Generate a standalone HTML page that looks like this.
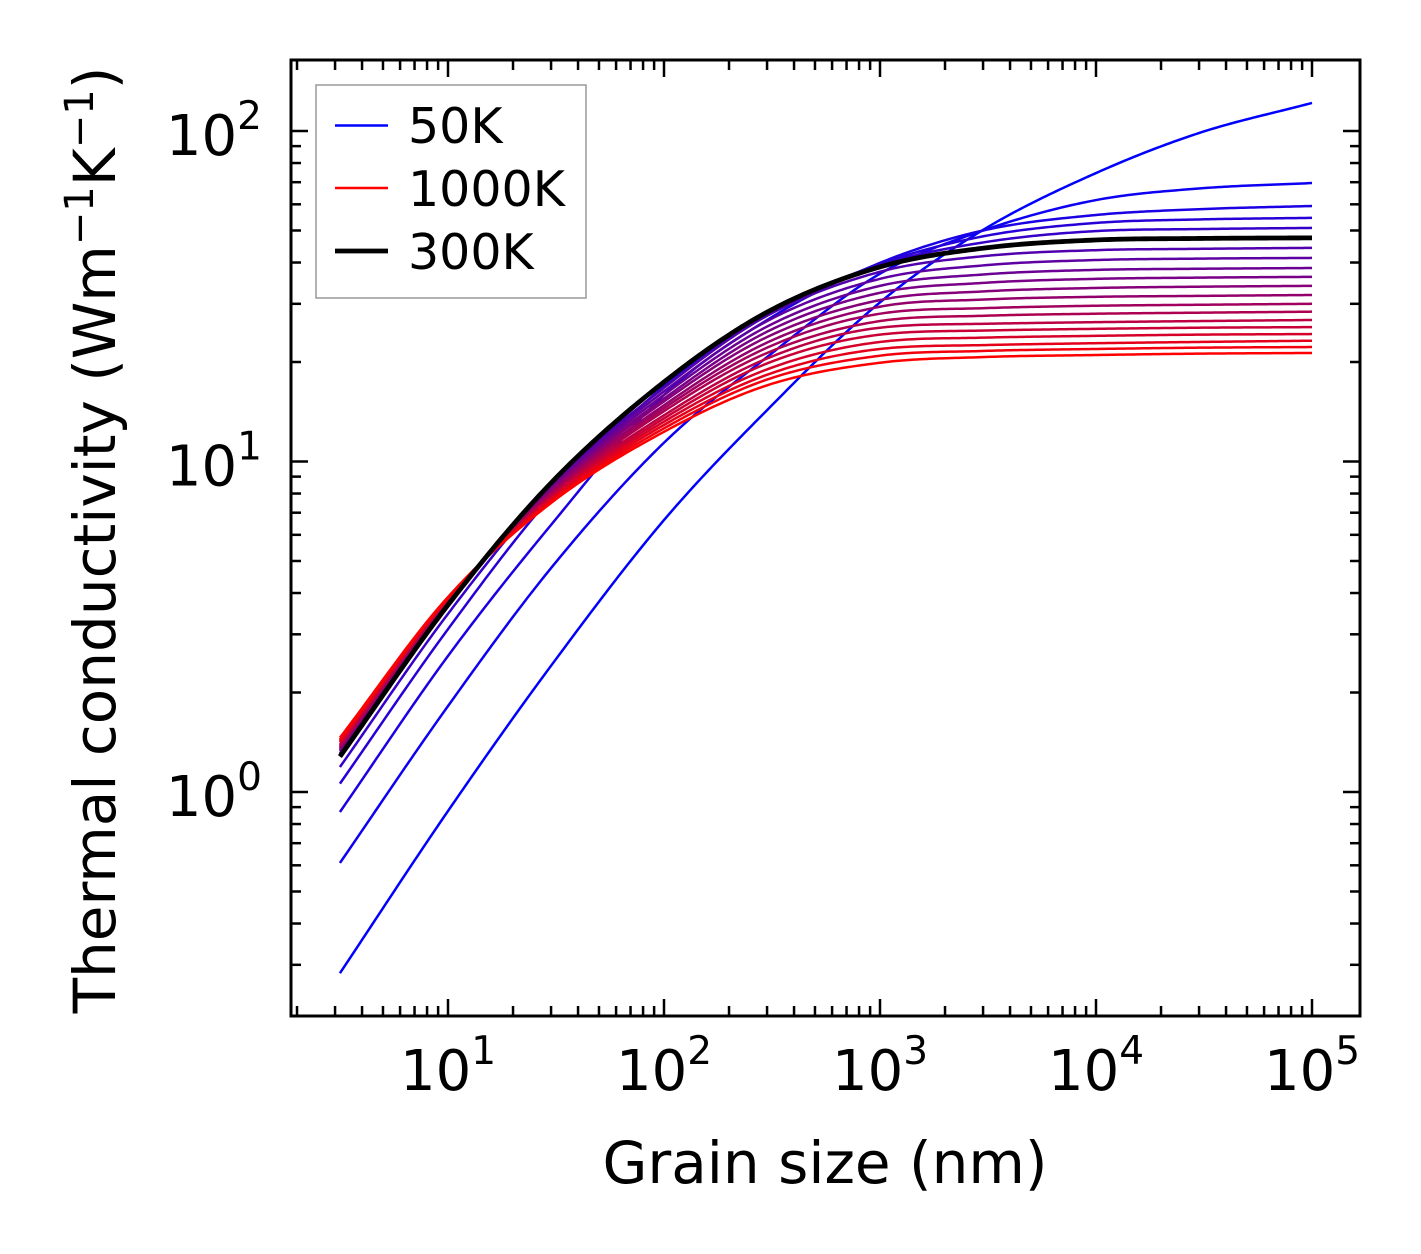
<!DOCTYPE html>
<html><head><meta charset="utf-8"><style>
html,body{margin:0;padding:0;background:#fff;}
svg{display:block;font-family:"DejaVu Sans","Liberation Sans",sans-serif;}
</style></head><body>
<svg id="chart" width="1421" height="1254" viewBox="0 0 1421 1254" xmlns="http://www.w3.org/2000/svg">
<rect width="1421" height="1254" fill="#fff"/>
<g id="curves"></g>
<g id="ticks"></g>
<rect x="291" y="60" width="1069" height="956" fill="none" stroke="#000" stroke-width="3"/>
<g id="xlabels"></g>
<g id="ylabels"></g>
<text x="825" y="1183" font-size="58" text-anchor="middle">Grain size (nm)</text>
<text transform="translate(115,540) rotate(-90)" font-size="58" text-anchor="middle">Thermal conductivity (Wm<tspan font-size="40" dy="-22">−1</tspan><tspan dy="22">K</tspan><tspan font-size="40" dy="-22">−1</tspan><tspan dy="22">)</tspan></text>
<g>
<rect x="316" y="85" width="270" height="213" fill="#fff" stroke="#999" stroke-width="1.5"/>
<line x1="335" y1="125.5" x2="388" y2="125.5" stroke="#0000ff" stroke-width="2.5"/>
<text x="408" y="143" font-size="49">50K</text>
<line x1="335" y1="188" x2="388" y2="188" stroke="#ff0000" stroke-width="2.5"/>
<text x="408" y="206" font-size="49">1000K</text>
<line x1="335" y1="251" x2="388" y2="251" stroke="#000" stroke-width="4.8"/>
<text x="408" y="269" font-size="49">300K</text>
</g>
</svg>
<script>
const NS="http://www.w3.org/2000/svg";
const temperatures=[50,100,150,200,250,300,350,400,450,500,550,600,650,700,750,800,850,900,950,1000];
const grainSizes=[3.16,10,30,100,300,1000,3000,10000,30000,100000];
const k50=[0.283,0.876,2.41,6.65,14.3,30.3,50.2,74.6,98.6,121.6];
const k100=[0.610,1.82,4.76,11.4,20.7,37.0,50.0,61.8,67.0,69.6];
const k150=[0.870,2.58,6.43,15.9,26.8,39.9,50.0,55.7,58.0,59.3];
const k200=[1.06,3.11,7.81,16.9,27.9,39.6,48.0,52.7,54.0,54.6];
const k250=[1.19,3.46,8.32,17.3,28.3,39.3,46.0,49.8,50.5,50.9];
const k300=[1.28,3.68,8.61,17.4,28.3,38.8,44.2,46.8,47.3,47.5];
const k350=[1.30,3.73,8.49,16.7,27.6,37.5,41.8,43.6,44.0,44.3];
const k400=[1.31,3.74,8.41,16.3,26.6,35.7,39.2,40.7,41.1,41.3];
const k450=[1.33,3.75,8.33,15.9,25.6,34.0,36.8,38.0,38.3,38.5];
const k500=[1.34,3.77,8.25,15.5,24.7,32.4,34.7,35.7,36.0,36.2];
const k550=[1.35,3.78,8.17,15.2,23.8,30.8,32.7,33.5,33.8,34.0];
const k600=[1.36,3.79,8.09,14.8,22.9,29.4,30.9,31.5,31.7,31.9];
const k650=[1.37,3.81,8.01,14.5,22.1,28.0,29.1,29.6,29.8,30.0];
const k700=[1.38,3.82,7.94,14.2,21.3,26.6,27.6,28.0,28.2,28.4];
const k750=[1.39,3.83,7.86,13.8,20.5,25.4,26.1,26.4,26.6,26.8];
const k800=[1.41,3.84,7.78,13.5,19.8,24.2,24.9,25.2,25.4,25.5];
const k850=[1.42,3.85,7.71,13.2,19.0,23.0,23.7,24.0,24.2,24.3];
const k900=[1.43,3.87,7.64,12.9,18.3,21.9,22.5,22.8,23.0,23.2];
const k950=[1.44,3.88,7.56,12.6,17.7,20.9,21.6,21.9,22.1,22.2];
const k1000=[1.46,3.89,7.49,12.3,17.0,19.9,20.7,21.0,21.2,21.3];
const series=[k50,k100,k150,k200,k250,k300,k350,k400,k450,k500,k550,k600,k650,k700,k750,k800,k850,k900,k950,k1000];
const xTicks=[1,2,3,4,5];
const yTicks=[0,1,2];

const X0=448,XD=216;
const Y0=792,YD=330.5;
const xs=v=>X0+(Math.log10(v)-1)*XD;
const ys=v=>Y0-Math.log10(v)*YD;

function monotone(xa,ya){
  const n=xa.length,d=[],m=new Array(n);
  for(let i=0;i<n-1;i++)d.push((ya[i+1]-ya[i])/(xa[i+1]-xa[i]));
  m[0]=d[0];m[n-1]=d[n-2];
  for(let i=1;i<n-1;i++){m[i]=(d[i-1]*d[i]<=0)?0:(d[i-1]+d[i])/2;}
  for(let i=0;i<n-1;i++){
    if(d[i]===0){m[i]=0;m[i+1]=0;continue;}
    const a=m[i]/d[i],b=m[i+1]/d[i],s=a*a+b*b;
    if(s>9){const t=3/Math.sqrt(s);m[i]=t*a*d[i];m[i+1]=t*b*d[i];}
  }
  return x=>{
    let i=0;while(i<n-2&&x>xa[i+1])i++;
    const h=xa[i+1]-xa[i],t=(x-xa[i])/h;
    const h00=2*t*t*t-3*t*t+1,h10=t*t*t-2*t*t+t,h01=-2*t*t*t+3*t*t,h11=t*t*t-t*t;
    return h00*ya[i]+h10*h*m[i]+h01*ya[i+1]+h11*h*m[i+1];
  };
}

const cg=document.getElementById('curves');
function drawCurve(vals,color,width,name){
  const lx=grainSizes.map(v=>Math.log10(v)),ly=vals.map(v=>Math.log10(v));
  const f=monotone(lx,ly);
  let d='';
  const a=lx[0],b=lx[lx.length-1];
  for(let j=0;j<=300;j++){
    const x=a+(b-a)*j/300,y=f(x);
    d+=(j?'L':'M')+xs(Math.pow(10,x)).toFixed(2)+','+ys(Math.pow(10,y)).toFixed(2);
  }
  const p=document.createElementNS(NS,'path');
  p.setAttribute('d',d);p.setAttribute('fill','none');
  p.setAttribute('stroke',color);p.setAttribute('stroke-width',width);
  p.setAttribute('stroke-linejoin','round');
  
  
  cg.appendChild(p);
}
series.forEach((vals,i)=>{
  const f=i/(series.length-1);
  const col='rgb('+Math.round(255*f)+',0,'+Math.round(255*(1-f))+')';
  drawCurve(vals,col,2.5,'curve-'+temperatures[i]+'k');
});
drawCurve(k300,'#000',4.8,'curve-300k-highlight');

const tg=document.getElementById('ticks');
function tick(x1,y1,x2,y2,name){
  const l=document.createElementNS(NS,'line');
  l.setAttribute('x1',x1);l.setAttribute('y1',y1);l.setAttribute('x2',x2);l.setAttribute('y2',y2);
  l.setAttribute('stroke','#000');l.setAttribute('stroke-width','2.5');
  
  
  tg.appendChild(l);
}
for(let e=0;e<=5;e++){
  for(let m=1;m<10;m++){
    const v=m*Math.pow(10,e),x=xs(v);
    if(x<292||x>1359)continue;
    const L=m===1?17:10;
    tick(x,1016,x,1016-L,'x-tick');
    tick(x,60,x,60+L,'x-tick-top');
  }
}
for(let e=-1;e<=2;e++){
  for(let m=1;m<10;m++){
    const v=m*Math.pow(10,e),y=ys(v);
    if(y<61||y>1015)continue;
    const L=m===1?17:10;
    tick(291,y,291+L,y,'y-tick');
    tick(1360,y,1360-L,y,'y-tick-right');
  }
}
const xl=document.getElementById('xlabels');
xTicks.forEach(e=>{
  const t=document.createElementNS(NS,'text');
  t.setAttribute('x',xs(Math.pow(10,e)));t.setAttribute('y',1090);
  t.setAttribute('font-size','56');t.setAttribute('text-anchor','middle');
  
  
  t.innerHTML='10<tspan font-size="39" dy="-26">'+e+'</tspan>';
  xl.appendChild(t);
});
const yl=document.getElementById('ylabels');
yTicks.forEach(e=>{
  const t=document.createElementNS(NS,'text');
  t.setAttribute('x',262);t.setAttribute('y',ys(Math.pow(10,e))+24);
  t.setAttribute('font-size','56');t.setAttribute('text-anchor','end');
  
  
  t.innerHTML='10<tspan font-size="39" dy="-26">'+e+'</tspan>';
  yl.appendChild(t);
});
</script>
</body></html>
